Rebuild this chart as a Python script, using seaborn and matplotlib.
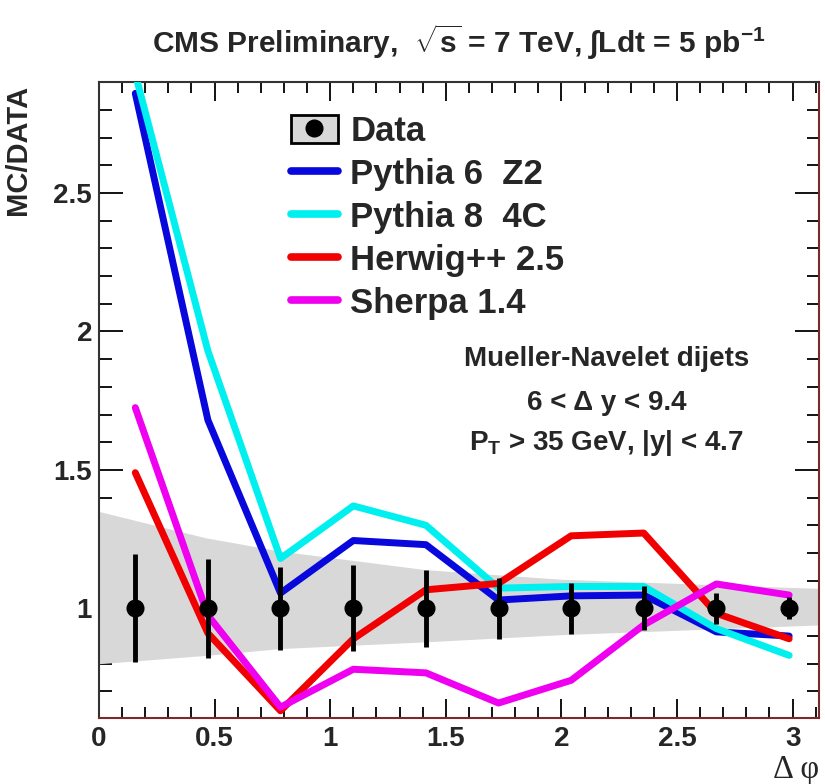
import pandas as pd
import matplotlib
matplotlib.use("Agg")
import matplotlib.pyplot as plt
from matplotlib.patches import Patch
from matplotlib.lines import Line2D
from matplotlib.ticker import MultipleLocator
import seaborn as sns

# bin centres in delta phi
dphi = [0.157, 0.471, 0.785, 1.100, 1.414, 1.728, 2.042, 2.356, 2.670, 2.985]
data_ratio = [1.0, 1.0, 1.0, 1.0, 1.0, 1.0, 1.0, 1.0, 1.0, 1.0]
data_err = [0.195, 0.18, 0.15, 0.155, 0.14, 0.11, 0.093, 0.08, 0.055, 0.04]

pythia6 = [2.86, 1.68, 1.055, 1.245, 1.23, 1.03, 1.045, 1.048, 0.915, 0.90]
pythia8 = [2.93, 1.93, 1.18, 1.37, 1.30, 1.073, 1.079, 1.079, 0.927, 0.83]
herwig = [1.49, 0.91, 0.63, 0.89, 1.067, 1.09, 1.262, 1.272, 0.982, 0.89]
sherpa = [1.725, 0.975, 0.643, 0.78, 0.767, 0.658, 0.74, 0.94, 1.088, 1.048]

# systematic band
band_x = [0.0, 0.46, 0.79, 1.41, 2.0, 3.114]
band_hi = [1.35, 1.255, 1.206, 1.14, 1.105, 1.072]
band_lo = [0.80, 0.83, 0.855, 0.879, 0.905, 0.94]

models = ["Pythia 6  Z2", "Pythia 8  4C", "Herwig++ 2.5", "Sherpa 1.4"]
colors = ["#0808dc", "#00f0f0", "#f00000", "#f000f0"]

xticks = [0, 0.5, 1, 1.5, 2, 2.5, 3]
xtick_labels = ["0", "0.5", "1", "1.5", "2", "2.5", "3"]
yticks = [1, 1.5, 2, 2.5]
ytick_labels = ["1", "1.5", "2", "2.5"]

df = pd.DataFrame({
    "dphi": dphi * 4,
    "ratio": pythia6 + pythia8 + herwig + sherpa,
    "model": [m for m in models for _ in dphi],
})

sns.set_theme(style="ticks")
plt.rcParams["font.family"] = ["Liberation Sans", "DejaVu Sans"]
plt.rcParams["font.weight"] = "bold"
plt.rcParams["mathtext.fontset"] = "custom"
plt.rcParams["mathtext.rm"] = "Liberation Sans:bold"
plt.rcParams["mathtext.it"] = "Liberation Sans:bold"
plt.rcParams["mathtext.bf"] = "Liberation Sans:bold"

fig = plt.figure(figsize=(8.25, 7.84), dpi=100)
ax = fig.add_axes([0.12, 0.0842, 0.8727, 0.8112])

ax.fill_between(band_x, band_lo, band_hi, color="#d8d8d8", lw=0, zorder=1)

sns.lineplot(data=df, x="dphi", y="ratio", hue="model", hue_order=models,
             palette=colors, linewidth=5, legend=False, ax=ax, zorder=3)

ax.errorbar(dphi, data_ratio, yerr=data_err, fmt="o", color="black",
            markersize=12, elinewidth=3.5, capsize=0, zorder=5)

ax.set_xlim(0, 3.114)
ax.set_ylim(0.604, 2.901)
ax.xaxis.set_minor_locator(MultipleLocator(0.1))
ax.yaxis.set_minor_locator(MultipleLocator(0.1))
ax.set_xticks(xticks)
ax.set_xticklabels(xtick_labels, fontweight="bold", fontsize=20)
ax.set_yticks(yticks)
ax.set_yticklabels(ytick_labels, fontweight="bold", fontsize=20)
ax.tick_params(which="both", direction="in", top=True, right=True,
               color="black", width=1.3)
ax.tick_params(axis="x", which="major", length=14, pad=6)
ax.tick_params(axis="x", which="minor", length=8)
ax.tick_params(axis="y", which="major", length=17, pad=5)
ax.tick_params(axis="y", which="minor", length=9)
for s in ax.spines.values():
    s.set_linewidth(1.5)
    s.set_color("#333333")
ax.spines["bottom"].set_color("#7a2a2a")
ax.spines["right"].set_color("#7a2a2a")

ax.set_xlabel("")
ax.set_ylabel("MC/DATA", fontsize=21, fontweight="bold", loc="top")
ax.yaxis.set_label_coords(-0.093, 0.995)
ax.text(1.0, -0.095, "Δ φ", transform=ax.transAxes, ha="right",
        va="baseline", fontsize=23.5, fontweight="normal",
        family=["Liberation Serif", "DejaVu Serif"])

fig.text(0.556, 0.946, r"CMS Preliminary,  $\sqrt{s}$ = 7 TeV, $\int$Ldt = 5 pb$^{-1}$",
         ha="center", va="center", fontsize=21.5, fontweight="bold",
         family=["Liberation Sans Narrow", "Liberation Sans", "DejaVu Sans"])

ax.text(0.705, 0.565, "Mueller-Navelet dijets", transform=ax.transAxes,
        ha="center", va="center", fontsize=20, fontweight="bold")
ax.text(0.705, 0.496, "6 < Δ y < 9.4", transform=ax.transAxes,
        ha="center", va="center", fontsize=20, fontweight="bold")
ax.text(0.705, 0.432, r"P$_{\mathrm{T}}$ > 35 GeV, |y| < 4.7", transform=ax.transAxes,
        ha="center", va="center", fontsize=20, fontweight="bold")

handles = [(Patch(facecolor="#d8d8d8", edgecolor="black", lw=2),
            Line2D([], [], marker="o", color="black", ls="", markersize=12))]
handles += [Line2D([], [], color=c, lw=5.5) for c in colors]
ax.legend(handles, ["Data"] + models, loc="upper left",
          bbox_to_anchor=(0.266, 0.948), frameon=False,
          handlelength=1.37, handleheight=0.86, handletextpad=0.35,
          labelspacing=0.29, borderpad=0, borderaxespad=0,
          prop={"weight": "bold", "size": 25})

fig.savefig("out.png", dpi=100)
